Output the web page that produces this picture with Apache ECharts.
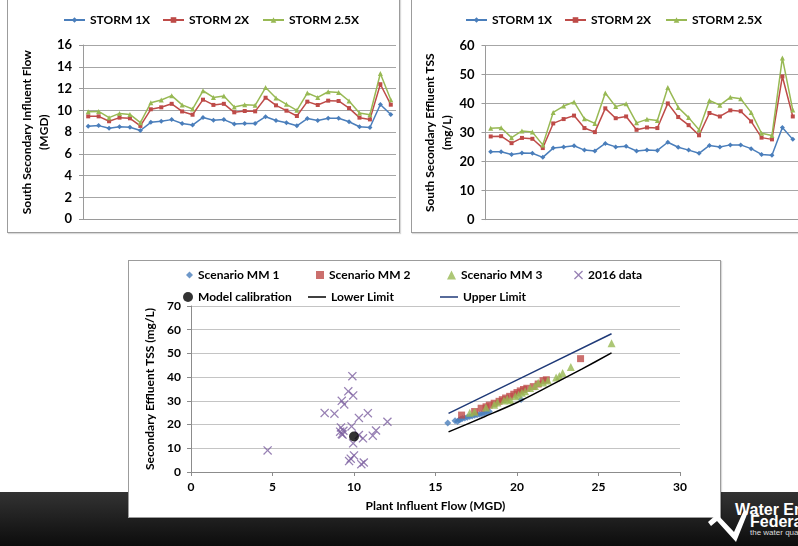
<!DOCTYPE html>
<html><head><meta charset="utf-8">
<script src="https://cdn.jsdelivr.net/npm/echarts@6/dist/echarts.min.js"></script>
<style>
html,body{margin:0;padding:0;background:#fff;width:798px;height:546px;overflow:hidden;}
#footer{position:absolute;left:0;top:492px;width:798px;height:54px;background:linear-gradient(#333,#0c0c0c);}
.box{position:absolute;border:1px solid #9c9c9c;background:#fff;box-sizing:border-box;box-shadow:1px 1px 1px rgba(0,0,0,0.15);}
#chart{position:absolute;left:0;top:0;width:798px;height:546px;}
#logo{position:absolute;left:706px;top:502px;width:92px;height:44px;color:#fff;font-family:"Liberation Sans Narrow","Liberation Sans",Arial,sans-serif;white-space:nowrap;overflow:hidden;}
#logo .l1{position:absolute;left:29px;top:0px;font-size:16px;font-weight:bold;line-height:16px;}
#logo .l2{position:absolute;left:44px;top:12px;font-size:16px;font-weight:bold;line-height:16px;}
#logo .l3{position:absolute;left:44px;top:26px;font-size:8px;line-height:9px;color:#ddd;}
#logo svg{position:absolute;left:0;top:0;}
</style>
</head><body>
<div id="footer"></div>
<div class="box" style="left:7px;top:-3px;width:393px;height:236px;"></div>
<div class="box" style="left:411px;top:-3px;width:400px;height:236px;"></div>
<div class="box" style="left:128px;top:260px;width:593px;height:258px;"></div>
<div id="logo">
  <svg width="45" height="44"><polygon points="2,20 11,12 28,30 38,8 42,10 30,40 11,19 5,24" fill="#fff"/></svg>
  <span class="l1">Water Environment</span>
  <span class="l2">Federation</span>
  <span class="l3">the water quality people</span>
</div>
<div id="chart"></div>
<script>
// ---- data ----
const categories = ['1','2','3','4','5','6','7','8','9','10','11','12','13','14','15','16','17','18','19','20','21','22','23','24','25','26','27','28','29','30'];
const stormNames = ['STORM 1X','STORM 2X','STORM 2.5X'];

const flow1x  = [8.55,8.6,8.35,8.5,8.45,8.15,8.9,9.0,9.15,8.8,8.65,9.35,9.1,9.15,8.75,8.8,8.8,9.42,9.07,8.86,8.58,9.25,9.07,9.28,9.28,8.95,8.5,8.43,10.54,9.62];
const flow2x  = [9.45,9.45,9.0,9.33,9.27,8.57,10.1,10.28,10.6,9.9,9.6,10.98,10.5,10.6,9.82,9.94,9.91,11.16,10.46,9.97,9.48,10.8,10.49,10.89,10.86,10.21,9.33,9.17,12.4,10.52];
const flow25x = [9.88,9.9,9.33,9.72,9.63,8.87,10.7,10.95,11.35,10.5,10.12,11.8,11.19,11.31,10.3,10.52,10.46,12.09,11.13,10.55,10.0,11.59,11.19,11.71,11.65,10.86,9.76,9.6,13.38,10.98];

const tss1x  = [23.4,23.4,22.5,23.0,22.9,21.5,24.7,25.1,25.5,24.0,23.7,26.3,25.1,25.3,23.7,24.0,23.9,26.7,25.0,24.0,22.9,25.6,25.1,25.8,25.8,24.5,22.5,22.2,31.8,27.7];
const tss2x  = [28.7,28.8,26.4,28.2,27.9,24.7,33.2,34.7,35.9,31.6,30.2,38.4,35.0,35.6,31.0,31.8,31.6,40.1,35.4,32.6,29.1,36.8,35.6,37.7,37.4,33.9,28.3,27.7,49.4,35.6];
const tss25x = [31.5,31.7,28.3,30.6,30.2,25.8,37.0,39.2,40.6,34.8,33.2,43.7,39.0,40.0,33.4,34.6,34.2,45.6,38.7,35.2,31.0,41.1,39.5,42.2,41.7,37.0,29.8,29.0,55.8,37.8];

const scatterNames = ['Scenario MM 1','Scenario MM 2','Scenario MM 3','2016 data','Model calibration','Lower Limit','Upper Limit'];
const mm1 = [[15.75,20.7],[16.2,21.6],[16.35,21.3],[16.45,21.9],[16.55,22.2],[16.65,22.6],[16.8,22.8],[16.95,23.1],[17.1,23.4],[17.25,23.6],[17.4,23.9],[17.55,24.1],[17.7,24.4],[17.85,24.6],[18.0,24.9],[18.15,25.2],[18.3,25.5],[20.25,30.6]];
const mm2 = [[16.6,24.0],[17.4,25.5],[17.8,26.9],[18.1,27.5],[18.3,28.2],[18.6,29.0],[18.9,29.8],[19.1,30.5],[19.3,31.2],[19.55,31.9],[19.8,32.8],[20.0,33.5],[20.2,34.2],[20.4,34.8],[20.6,35.3],[21.0,36.0],[21.3,37.1],[21.6,38.5],[21.8,38.9],[23.9,47.8]];
const mm3 = [[17.1,25.0],[17.4,25.4],[18.1,27.2],[18.6,28.4],[18.8,29.3],[19.2,30.2],[19.4,30.8],[19.6,30.3],[19.9,31.9],[20.1,32.6],[20.3,33.4],[20.5,34.0],[20.8,35.4],[21.1,36.3],[21.3,37.6],[21.6,37.7],[21.9,38.6],[22.4,39.8],[22.6,40.5],[22.8,41.7],[23.3,44.3],[25.8,54.3]];
const data2016 = [[4.7,9.1],[8.2,24.9],[8.8,24.6],[9.15,17.0],[9.2,18.8],[9.25,16.0],[9.3,15.8],[9.35,17.4],[9.25,30.0],[9.4,28.5],[9.65,34.0],[9.9,40.4],[9.95,32.3],[9.85,19.2],[9.95,12.1],[9.7,4.6],[9.8,5.6],[10.0,7.0],[10.3,22.8],[10.3,15.6],[10.55,14.2],[10.45,3.3],[10.6,4.0],[10.85,24.8],[11.15,15.3],[11.35,17.5],[12.05,21.2]];
const calibration = [[10.0,15.0]];
const lowerLimit = [[15.8,16.9],[18,23.3],[20,29.3],[22,36.3],[24,43.5],[25.8,50.2]];
const upperLimit = [[15.8,24.7],[20.8,41.5],[25.8,58.3]];

// ---- styles ----
const FONT = 'Lato, "Open Sans", sans-serif';
const cBlue = '#4a7ebb', cRed = '#be4b48', cGreen = '#98b954', cPurple = '#7d60a0', cNavy = '#1f3a78';
const gridGray = '#a6a6a6';
const xPath = 'path://M0,1L1,0L5,4L9,0L10,1L6,5L10,9L9,10L5,6L1,10L0,9L4,5Z';

function catAxis(gi){
  return {gridIndex:gi,type:'category',data:categories,boundaryGap:true,
    axisLine:{show:true,lineStyle:{color:'#9a9a9a',width:1}},axisTick:{show:false},axisLabel:{show:false},splitLine:{show:false}};
}
function valAxis(gi,max,interval,name){
  return {gridIndex:gi,type:'value',min:0,max:max,interval:interval,
    axisLine:{show:true,lineStyle:{color:'#9a9a9a'}},
    axisTick:{show:true,length:4,lineStyle:{color:'#9a9a9a'}},
    splitLine:{show:true,lineStyle:{color:gridGray,width:1}},
    axisLabel:{fontFamily:FONT,fontWeight:'bold',fontSize:13,color:'#000',margin:11},
    name:name,nameLocation:'middle',nameRotate:90,nameGap:28,
    nameTextStyle:{fontFamily:FONT,fontWeight:'bold',fontSize:12,lineHeight:17,color:'#000',align:'center'}};
}
function stormSeries(gi,vals,idx){
  const cols=[cBlue,cRed,cGreen], syms=['diamond','rect','triangle'], sz=[5,4,5];
  return {name:stormNames[idx],type:'line',xAxisIndex:gi,yAxisIndex:gi,data:vals,
    symbol:syms[idx],symbolSize:sz[idx],showAllSymbol:true,
    itemStyle:{color:cols[idx]},lineStyle:{color:cols[idx],width:1.5},animation:false};
}
function leg(item,left,top,w,h,fs){
  return {orient:'horizontal',padding:0,selectedMode:false,itemGap:0,
    data:[item],left:left,top:top,itemWidth:w,itemHeight:h,
    textStyle:{fontFamily:FONT,fontWeight:'bold',fontSize:fs,color:'#000'}};
}

const option = {
  animation:false,
  textStyle:{fontFamily:FONT},
  grid:[
    {left:83,top:45,width:313,height:174.3},
    {left:485.5,top:45.7,width:312.5,height:174},
    {left:191,top:306,width:489,height:166}
  ],
  xAxis:[
    catAxis(0), catAxis(1),
    {gridIndex:2,type:'value',min:0,max:30,interval:5,
      axisLine:{show:true,lineStyle:{color:'#8c8c8c'}},
      axisTick:{show:true,length:4,lineStyle:{color:'#8c8c8c'}},
      splitLine:{show:false},
      axisLabel:{fontFamily:FONT,fontWeight:'bold',fontSize:12,color:'#000',margin:9},
      name:'Plant Influent Flow (MGD)',nameLocation:'middle',nameGap:28,
      nameTextStyle:{fontFamily:FONT,fontWeight:'bold',fontSize:12,color:'#000'}}
  ],
  yAxis:[
    valAxis(0,16,2,'South Secondary Influent Flow\n(MGD)'),
    valAxis(1,60,10,'South Secondary Effluent TSS\n(mg/L)'),
    {gridIndex:2,type:'value',min:0,max:70,interval:10,
      axisLine:{show:true,lineStyle:{color:'#8c8c8c'}},
      axisTick:{show:true,length:4,lineStyle:{color:'#8c8c8c'}},
      splitLine:{show:true,lineStyle:{color:'#c4c4c4',width:1}},
      axisLabel:{fontFamily:FONT,fontWeight:'bold',fontSize:12,color:'#000',margin:10},
      name:'Secondary Effluent TSS (mg/L)',nameLocation:'middle',nameRotate:90,nameGap:27,
      nameTextStyle:{fontFamily:FONT,fontWeight:'bold',fontSize:12,color:'#000'}}
  ],
  legend:[
    leg('STORM 1X',63,14,21,7,12), leg('STORM 2X',162,14,21,7,12), leg('STORM 2.5X',262,14,21,7,12),
    leg('STORM 1X',465,14,21,7,12), leg('STORM 2X',564,14,21,7,12), leg('STORM 2.5X',665,14,21,7,12),
    leg('Scenario MM 1',186,269,7,7,12), leg('Scenario MM 2',316,269,8,8,12),
    leg('Scenario MM 3',447,269,9,9,12), leg('2016 data',574,269,9,9,12),
    leg('Model calibration',183,291,10,10,12),
    leg({name:'Lower Limit',icon:'rect',itemStyle:{color:'#000'}},308,291,18,1.5,12),
    leg({name:'Upper Limit',icon:'rect',itemStyle:{color:cNavy}},440,291,18,1.5,12)
  ],
  series:[
    stormSeries(0,flow1x,0), stormSeries(0,flow2x,1), stormSeries(0,flow25x,2),
    stormSeries(1,tss1x,0), stormSeries(1,tss2x,1), stormSeries(1,tss25x,2),
    {name:'Scenario MM 1',type:'scatter',xAxisIndex:2,yAxisIndex:2,data:mm1,symbol:'diamond',symbolSize:7,itemStyle:{color:cBlue}},
    {name:'Scenario MM 2',type:'scatter',xAxisIndex:2,yAxisIndex:2,data:mm2,symbol:'rect',symbolSize:7,itemStyle:{color:cRed}},
    {name:'Scenario MM 3',type:'scatter',xAxisIndex:2,yAxisIndex:2,data:mm3,symbol:'triangle',symbolSize:8,itemStyle:{color:cGreen}},
    {name:'2016 data',type:'scatter',xAxisIndex:2,yAxisIndex:2,data:data2016,symbol:xPath,symbolSize:9,itemStyle:{color:cPurple}},
    {name:'Model calibration',type:'scatter',xAxisIndex:2,yAxisIndex:2,data:calibration,symbol:'circle',symbolSize:10,itemStyle:{color:'#000'}},
    {name:'Lower Limit',type:'line',xAxisIndex:2,yAxisIndex:2,data:lowerLimit,symbol:'none',smooth:0.3,lineStyle:{color:'#000',width:1.5},itemStyle:{color:'#000'}},
    {name:'Upper Limit',type:'line',xAxisIndex:2,yAxisIndex:2,data:upperLimit,symbol:'none',lineStyle:{color:cNavy,width:1.5},itemStyle:{color:cNavy}}
  ]
};
const chart = echarts.init(document.getElementById('chart'),null,{renderer:'canvas'});
chart.setOption(option);
</script>
</body></html>
